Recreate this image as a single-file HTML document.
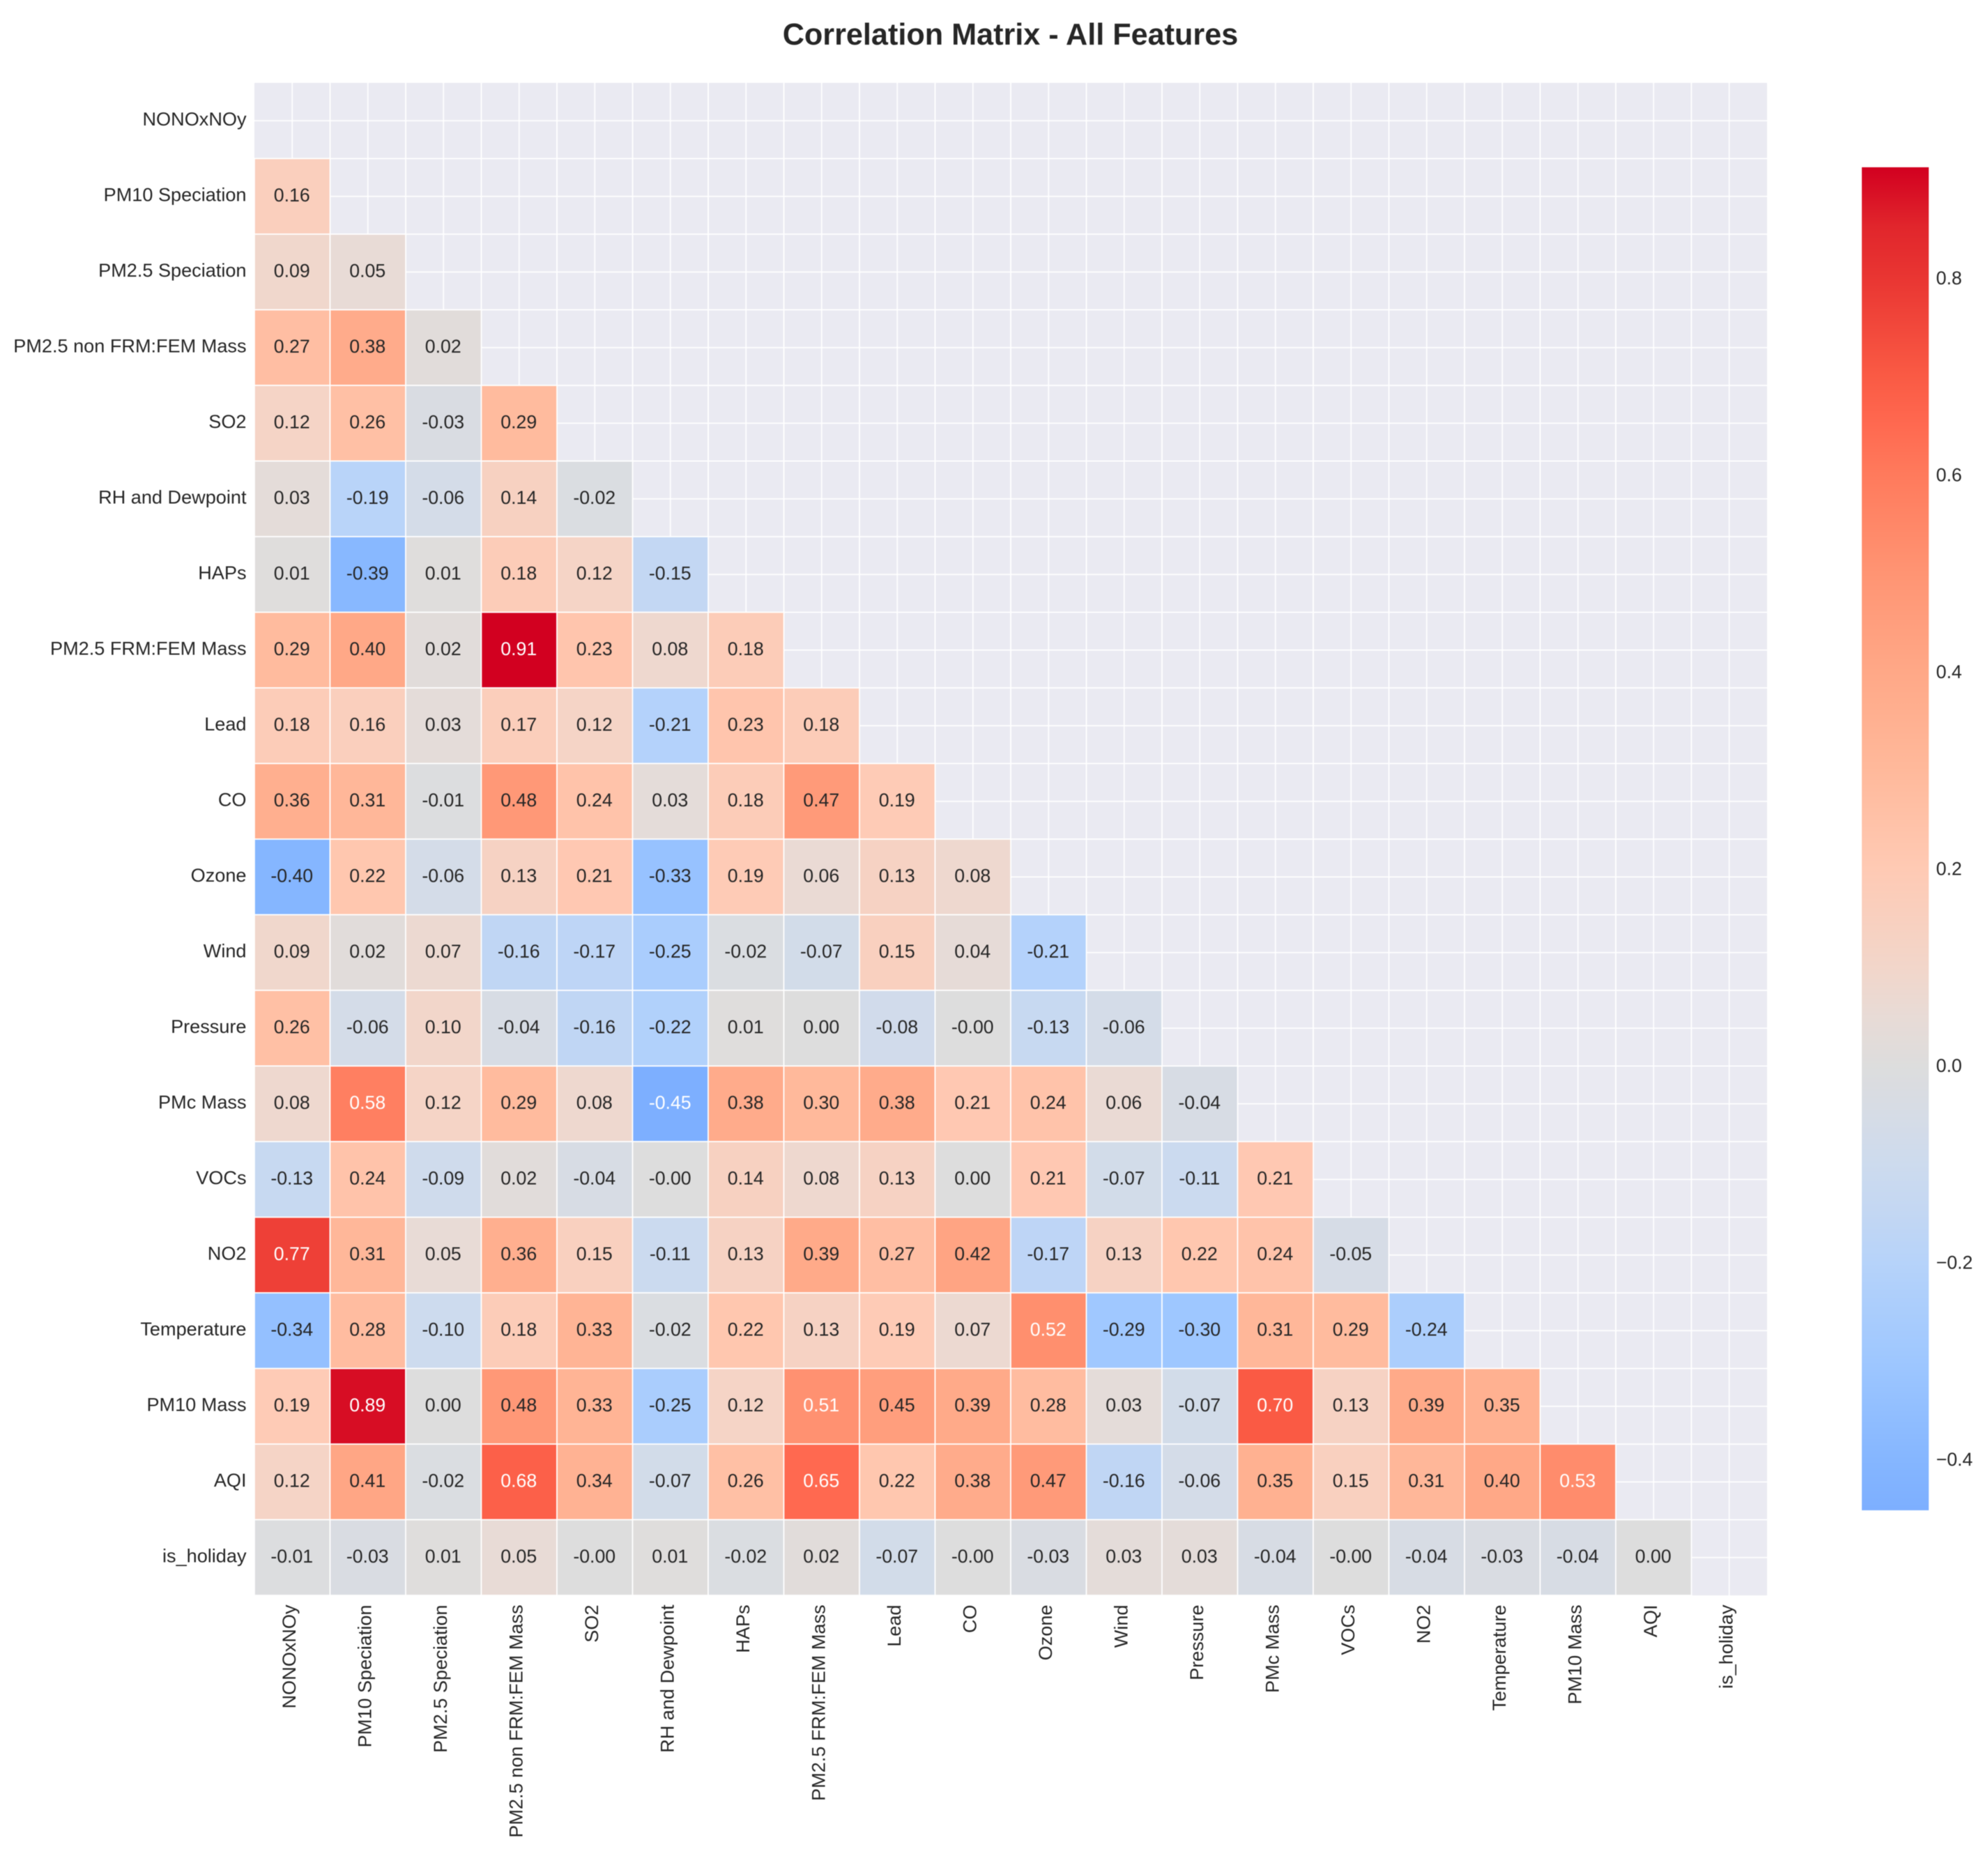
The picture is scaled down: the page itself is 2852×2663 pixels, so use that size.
<!DOCTYPE html>
<html lang="en">
<head>
<meta charset="utf-8">
<title>Correlation Matrix - All Features</title>
<style>
html,body{margin:0;padding:0;background:#fff;width:2852px;height:2663px;overflow:hidden}
svg{display:block;filter:blur(0.6px)}
text{font-family:"Liberation Sans",Arial,sans-serif;fill:#262626}
</style>
</head>
<body>
<svg id="chart" xmlns="http://www.w3.org/2000/svg" width="2852" height="2663" viewBox="0 0 2852 2663">
  <rect x="0" y="0" width="2852" height="2663" fill="#ffffff"></rect>
  <text x="1449.5" y="64" text-anchor="middle" font-size="43.2" font-weight="700">Correlation Matrix - All Features</text>
  <defs><linearGradient id="cbar-gradient" x1="0" y1="1" x2="0" y2="0"></linearGradient></defs>
  <g id="plot-bg"></g>
  <g id="cells"></g>
  <g id="annots"></g>
  <g id="ylabels"></g>
  <g id="xlabels"></g>
  <g id="cbar"></g>
</svg>
<script>
const categories = ["NONOxNOy","PM10 Speciation","PM2.5 Speciation","PM2.5 non FRM:FEM Mass","SO2","RH and Dewpoint","HAPs","PM2.5 FRM:FEM Mass","Lead","CO","Ozone","Wind","Pressure","PMc Mass","VOCs","NO2","Temperature","PM10 Mass","AQI","is_holiday"];
/* Lower triangle of the correlation matrix; -0.001 prints as -0.00 */
const row01 = [0.16];
const row02 = [0.09,0.05];
const row03 = [0.27,0.38,0.02];
const row04 = [0.12,0.26,-0.03,0.29];
const row05 = [0.03,-0.19,-0.06,0.14,-0.02];
const row06 = [0.01,-0.39,0.01,0.18,0.12,-0.15];
const row07 = [0.29,0.40,0.02,0.91,0.23,0.08,0.18];
const row08 = [0.18,0.16,0.03,0.17,0.12,-0.21,0.23,0.18];
const row09 = [0.36,0.31,-0.01,0.48,0.24,0.03,0.18,0.47,0.19];
const row10 = [-0.40,0.22,-0.06,0.13,0.21,-0.33,0.19,0.06,0.13,0.08];
const row11 = [0.09,0.02,0.07,-0.16,-0.17,-0.25,-0.02,-0.07,0.15,0.04,-0.21];
const row12 = [0.26,-0.06,0.10,-0.04,-0.16,-0.22,0.01,0.00,-0.08,-0.001,-0.13,-0.06];
const row13 = [0.08,0.58,0.12,0.29,0.08,-0.45,0.38,0.30,0.38,0.21,0.24,0.06,-0.04];
const row14 = [-0.13,0.24,-0.09,0.02,-0.04,-0.001,0.14,0.08,0.13,0.00,0.21,-0.07,-0.11,0.21];
const row15 = [0.77,0.31,0.05,0.36,0.15,-0.11,0.13,0.39,0.27,0.42,-0.17,0.13,0.22,0.24,-0.05];
const row16 = [-0.34,0.28,-0.10,0.18,0.33,-0.02,0.22,0.13,0.19,0.07,0.52,-0.29,-0.30,0.31,0.29,-0.24];
const row17 = [0.19,0.89,0.00,0.48,0.33,-0.25,0.12,0.51,0.45,0.39,0.28,0.03,-0.07,0.70,0.13,0.39,0.35];
const row18 = [0.12,0.41,-0.02,0.68,0.34,-0.07,0.26,0.65,0.22,0.38,0.47,-0.16,-0.06,0.35,0.15,0.31,0.40,0.53];
const row19 = [-0.01,-0.03,0.01,0.05,-0.001,0.01,-0.02,0.02,-0.07,-0.001,-0.03,0.03,0.03,-0.04,-0.001,-0.04,-0.03,-0.04,0.00];
const rows = [[],row01,row02,row03,row04,row05,row06,row07,row08,row09,row10,row11,row12,row13,row14,row15,row16,row17,row18,row19];
const colorbarTicks = [-0.4,-0.2,0.0,0.2,0.4,0.6,0.8];
const colorDomain = [-0.45,-0.4,-0.3,-0.2,-0.15,-0.1,-0.05,0,0.05,0.1,0.2,0.3,0.4,0.5,0.6,0.65,0.7,0.8,0.85,0.91];
const colorRange = ["125,175,255","133,182,255","158,199,255","182,211,250","195,215,243","205,219,238","214,220,230","221,221,221","232,219,214","242,214,202","255,202,180","255,185,155","255,168,135","255,148,115","255,122,92","255,105,80","250,90,68","233,53,50","225,38,44","210,0,32"];

const NS = "http://www.w3.org/2000/svg";
const plotLeft = 365, plotTop = 119, cellSize = 108.5;
const cbarLeft = 2671, cbarRight = 2767, cbarTop = 240, cbarBottom = 2167;
const vMin = -0.452, vMax = 0.9126;

function xScale(i){ return plotLeft + i * cellSize; }
function yScale(j){ return plotTop + j * cellSize; }
function cbarScale(v){ return cbarBottom - (v - vMin) / (vMax - vMin) * (cbarBottom - cbarTop); }

function rgbOf(v){
  const d = colorDomain;
  if (v <= d[0]) return colorRange[0].split(",").map(Number);
  for (let k = 1; k < d.length; k++){
    if (v <= d[k]){
      const t = (v - d[k-1]) / (d[k] - d[k-1]);
      const a = colorRange[k-1].split(",").map(Number);
      const b = colorRange[k].split(",").map(Number);
      return a.map((c, n) => Math.round(c + (b[n] - c) * t));
    }
  }
  return colorRange[colorRange.length-1].split(",").map(Number);
}
function cssColor(v){ return "rgb(" + rgbOf(v).join(",") + ")"; }
function luminance(v){
  const c = rgbOf(v).map(x => { x /= 255; return x <= 0.04045 ? x / 12.92 : Math.pow((x + 0.055) / 1.055, 2.4); });
  return 0.2126 * c[0] + 0.7152 * c[1] + 0.0722 * c[2];
}
function mk(parent, tag, attrs, txt){
  const el = document.createElementNS(NS, tag);
  for (const k in attrs) el.setAttribute(k, attrs[k]);
  if (txt !== undefined) el.textContent = txt;
  parent.appendChild(el);
  return el;
}

const n = categories.length;
const plotRight = xScale(n), plotBottom = yScale(n);
const bg = document.getElementById("plot-bg");
const bgRect = mk(bg, "rect", {x: plotLeft, y: plotTop, width: plotRight - plotLeft, height: plotBottom - plotTop, fill: "#EAEAF2"});



for (let i = 0.5; i < n; i += 0.5){
  const gx = mk(bg, "line", {x1: xScale(i), x2: xScale(i), y1: plotTop, y2: plotBottom, stroke: "#fff", "stroke-width": 1.8});
  
  
  const gy = mk(bg, "line", {x1: plotLeft, x2: plotRight, y1: yScale(i), y2: yScale(i), stroke: "#fff", "stroke-width": 1.8});
  
  
}

const cellsG = document.getElementById("cells");
const annotsG = document.getElementById("annots");
rows.forEach((row, j) => {
  row.forEach((v, i) => {
    const r = mk(cellsG, "rect", {x: xScale(i), y: yScale(j), width: cellSize, height: cellSize, fill: cssColor(v), stroke: "#fff", "stroke-width": 1.7});
    
    
    const t = mk(annotsG, "text", {x: xScale(i + 0.5) - 0.5, y: yScale(j + 0.5) + 7.3, "text-anchor": "middle", "font-size": 26.67}, v.toFixed(2));
    t.style.fill = luminance(v) < 0.44 ? "#ffffff" : "#262626";
    
    
  });
});

const yG = document.getElementById("ylabels");
const xG = document.getElementById("xlabels");
categories.forEach((name, i) => {
  const yl = mk(yG, "text", {x: 353.5, y: yScale(i + 0.5) + 6.8, "text-anchor": "end", "font-size": 27.1}, name);
  
  
  const bx = xScale(i + 0.5) + 4.5, by = 2302.5;
  const xl = mk(xG, "text", {x: bx, y: by, "text-anchor": "end", "font-size": 27.1, transform: "rotate(-90 " + bx + " " + by + ")"}, name);
  
  
});

const grad = document.getElementById("cbar-gradient");
colorDomain.forEach(v => {
  mk(grad, "stop", {offset: ((cbarScale(colorDomain[0]) - cbarScale(v)) / (cbarScale(colorDomain[0]) - cbarScale(colorDomain[colorDomain.length-1]))).toFixed(4), "stop-color": cssColor(v)});
});
const cbarG = document.getElementById("cbar");
const cbarRect = mk(cbarG, "rect", {x: cbarLeft, y: cbarTop, width: cbarRight - cbarLeft, height: cbarBottom - cbarTop, fill: "url(#cbar-gradient)"});


colorbarTicks.forEach(v => {
  const label = (v < 0 ? "\u2212" : "") + Math.abs(v).toFixed(1);
  const t = mk(cbarG, "text", {x: 2777.5, y: cbarScale(v) + 9.2, "font-size": 26.67}, label);
  
  
});
</script>
</body>
</html>
